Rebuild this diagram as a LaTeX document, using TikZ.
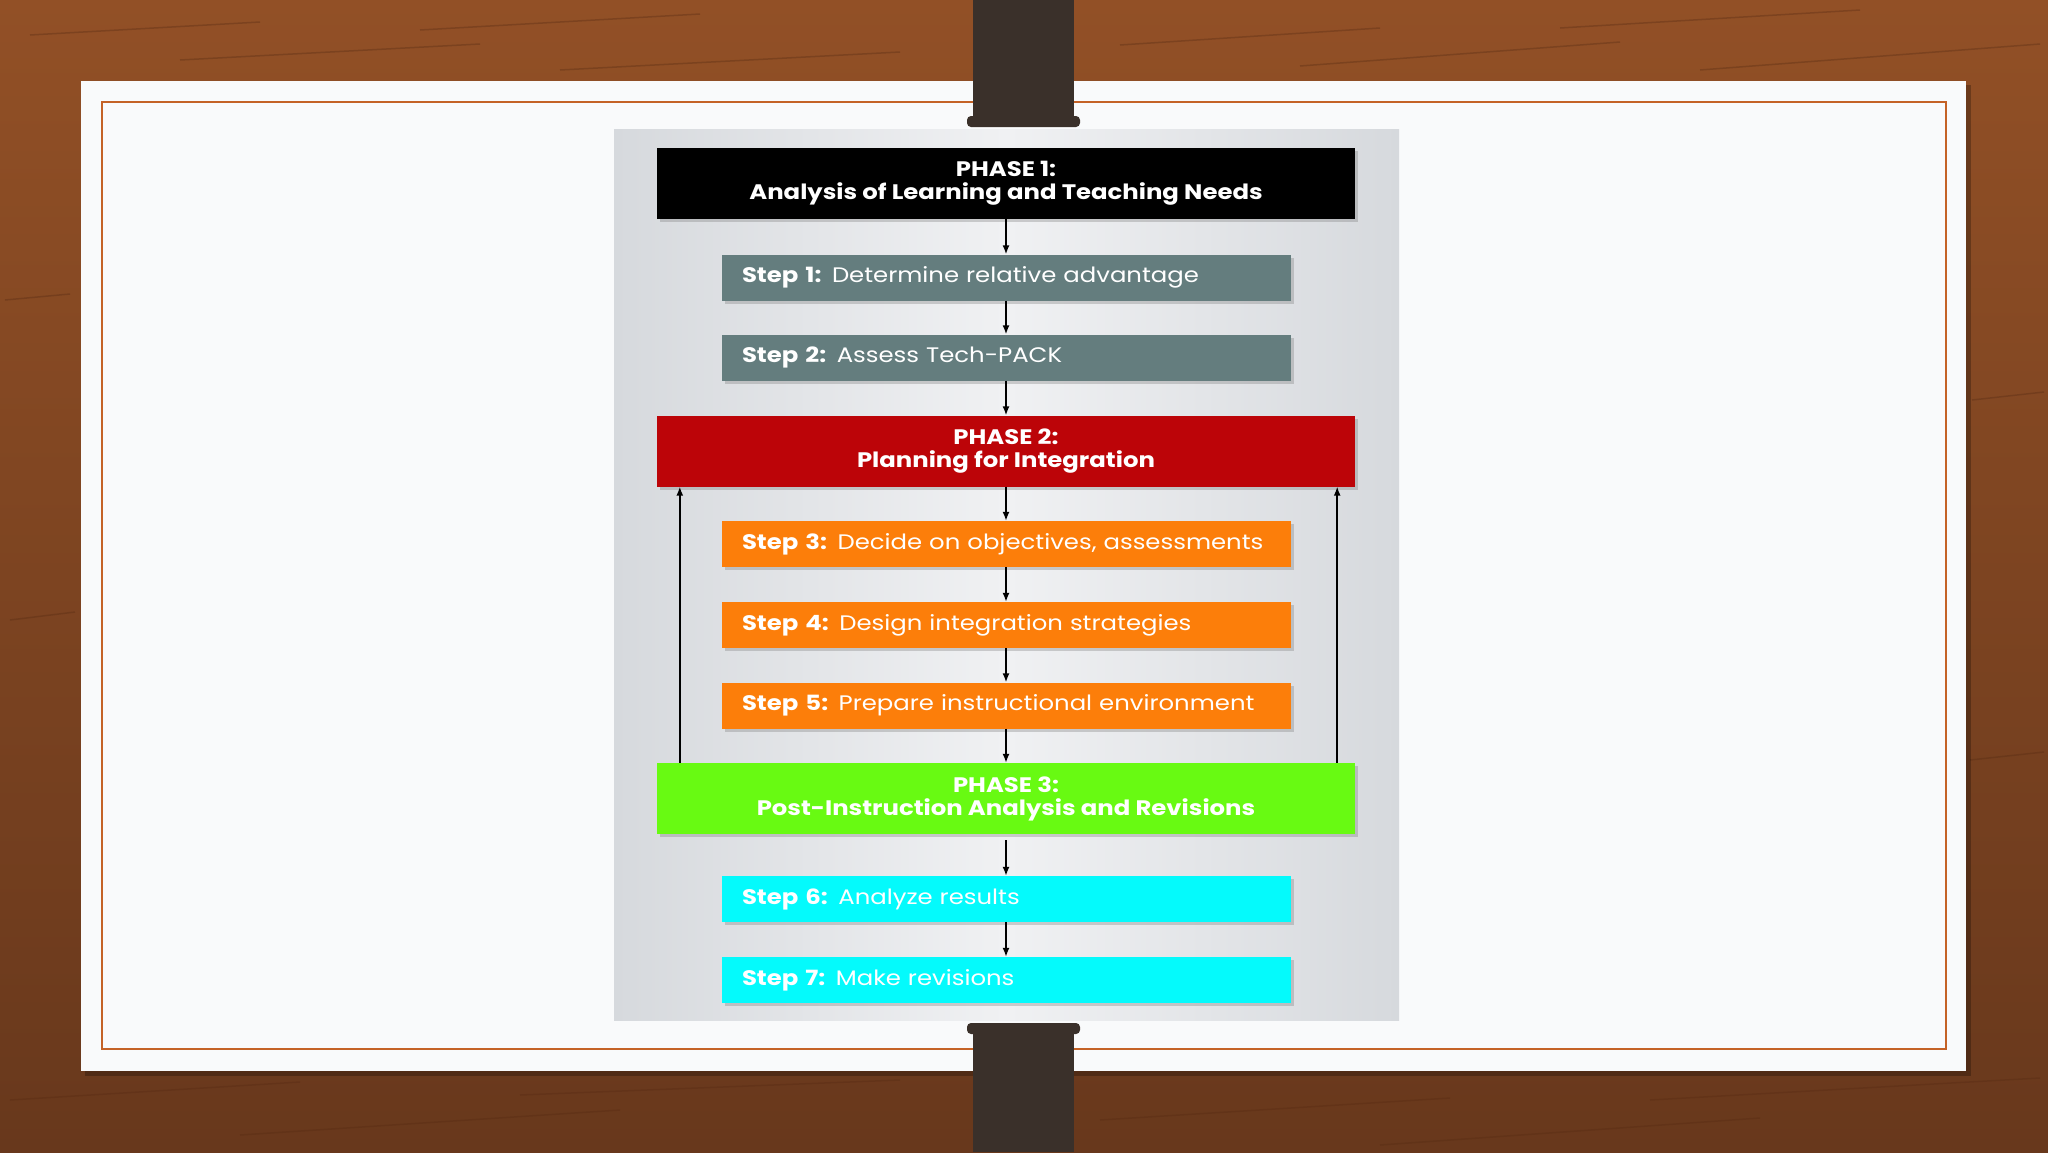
\documentclass[tikz,border=0pt]{standalone}
\usepackage{fontspec}
\setmainfont{Poppins}[FakeStretch=1.16]
\usetikzlibrary{shadows,arrows.meta,positioning}

\definecolor{woodtop}{RGB}{146,80,38}
\definecolor{woodbottom}{RGB}{104,56,28}
\definecolor{woodgrain}{RGB}{86,42,18}
\definecolor{strap}{RGB}{58,48,42}
\definecolor{frameline}{RGB}{196,98,38}
\definecolor{paper}{RGB}{249,250,251}
\definecolor{panelgrey}{RGB}{214,217,221}
\definecolor{panellight}{RGB}{240,241,243}
\definecolor{stepgrey}{RGB}{100,125,126}
\definecolor{phasered}{RGB}{188,4,8}
\definecolor{steporange}{RGB}{252,126,10}
\definecolor{phasegreen}{RGB}{104,250,18}
\definecolor{stepcyan}{RGB}{4,250,252}

\tikzset{
  phasebox/.style={minimum width=698pt, minimum height=71pt, inner sep=0pt,
    align=center, text=white, font=\fontsize{21}{23}\selectfont\bfseries,
    drop shadow={shadow xshift=3pt, shadow yshift=-3pt, opacity=.35}},
  stepbox/.style={minimum height=46pt, text width=528pt, inner xsep=20.5pt,
    inner ysep=0pt, align=left, text=white, font=\fontsize{21}{23}\selectfont,
    drop shadow={shadow xshift=3pt, shadow yshift=-3pt, opacity=.35}},
  woodline/.style={woodgrain, line width=1.5pt, opacity=.35},
  flow/.style={->, line width=1.5pt}
}

\begin{document}
\begin{tikzpicture}[x=1pt, y=-1pt, >={Latex[length=9pt,width=7pt]}]

\useasboundingbox (0,0) rectangle (2048,1152);

% table top
\shade[top color=woodtop, bottom color=woodbottom] (0,0) rectangle (2048,1152);
\draw[woodline] (30,35) -- (260,22);
\draw[woodline] (180,60) -- (480,44);
\draw[woodline] (420,30) -- (700,14);
\draw[woodline] (560,70) -- (900,52);
\draw[woodline] (1120,45) -- (1380,28);
\draw[woodline] (1300,66) -- (1620,42);
\draw[woodline] (1560,28) -- (1860,10);
\draw[woodline] (1700,70) -- (2040,44);
\draw[woodline] (10,1100) -- (300,1082);
\draw[woodline] (240,1135) -- (620,1110);
\draw[woodline] (520,1095) -- (900,1080);
\draw[woodline] (1100,1120) -- (1450,1098);
\draw[woodline] (1380,1145) -- (1760,1118);
\draw[woodline] (1650,1100) -- (2040,1078);
\draw[woodline] (5,300) -- (70,294);
\draw[woodline] (10,620) -- (75,612);
\draw[woodline] (1972,400) -- (2044,392);
\draw[woodline] (1970,760) -- (2044,752);

% paper sheet
\fill[black, opacity=.25] (85,85) rectangle (1971,1076);
\fill[paper] (81,81) rectangle (1966,1071);
\draw[frameline, line width=2pt] (102,102) rectangle (1946,1049);

% straps
\fill[strap] (973,0) rectangle (1074,121);
\fill[strap, rounded corners=4pt] (967,116) rectangle (1080,127);
\fill[strap] (973,1031) rectangle (1074,1152);
\fill[strap, rounded corners=4pt] (967,1023) rectangle (1080,1034);

% chart panel
\shade[left color=panelgrey, right color=panelgrey, middle color=panellight]
  (614,129) rectangle (1399,1020);

% boxes
\node[phasebox, fill=black] (ph1) at (1006,183.5) {PHASE 1:\\Analysis of Learning and Teaching Needs};
\node[stepbox, fill=stepgrey] (s1) at (1006,277.5) {\textbf{Step 1:} Determine relative advantage};
\node[stepbox, fill=stepgrey] (s2) at (1006,357.5) {\textbf{Step 2:} Assess Tech-PACK};
\node[phasebox, fill=phasered] (ph2) at (1006,451) {PHASE 2:\\Planning for Integration};
\node[stepbox, fill=steporange] (s3) at (1006,544) {\textbf{Step 3:} Decide on objectives, assessments};
\node[stepbox, fill=steporange] (s4) at (1006,625) {\textbf{Step 4:} Design integration strategies};
\node[stepbox, fill=steporange] (s5) at (1006,705.5) {\textbf{Step 5:} Prepare instructional environment};
\node[phasebox, fill=phasegreen] (ph3) at (1006,798.5) {PHASE 3:\\Post-Instruction Analysis and Revisions};
\node[stepbox, fill=stepcyan] (s6) at (1006,899) {\textbf{Step 6:} Analyze results};
\node[stepbox, fill=stepcyan] (s7) at (1006,980) {\textbf{Step 7:} Make revisions};

% arrows
\draw[flow] (ph1) -- (s1);
\draw[flow] (s1) -- (s2);
\draw[flow] (s2) -- (ph2);
\draw[flow] (ph2) -- (s3);
\draw[flow] (s3) -- (s4);
\draw[flow] (s4) -- (s5);
\draw[flow] (s5) -- (ph3);
\draw[flow, shorten <=6pt] (ph3) -- (s6);
\draw[flow] (s6) -- (s7);
\draw[flow] ([xshift=23pt]ph3.north west) -- ([xshift=23pt]ph2.south west);
\draw[flow] ([xshift=-18pt]ph3.north east) -- ([xshift=-18pt]ph2.south east);

\end{tikzpicture}
\end{document}
